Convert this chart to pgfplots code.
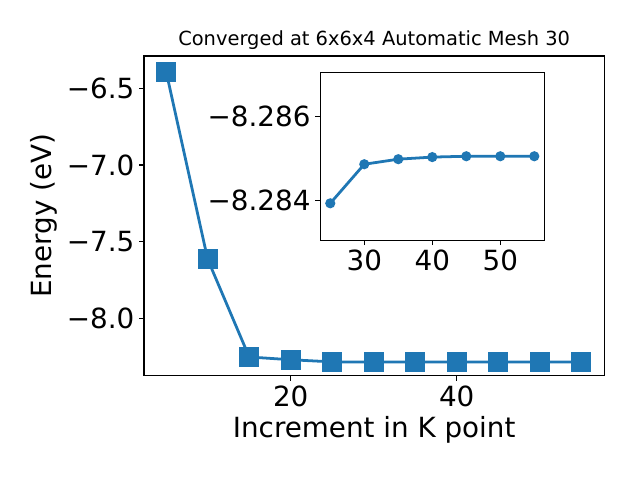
\documentclass[border=0pt]{standalone}
\usepackage{fontspec}
\setmainfont{DejaVu Sans}
\usepackage{pgfplots}
\pgfplotsset{compat=1.18}
\definecolor{mplblue}{HTML}{1F77B4}

\begin{document}
\begin{tikzpicture}
\useasboundingbox (0,0) rectangle (460.8pt,345.6pt);
% main axes
\begin{axis}[
    at={(103.7pt,75.1pt)}, anchor=south west,
    scale only axis, width=331.4pt, height=230.2pt,
    xmin=2.33, xmax=57.78, ymin=-8.374, ymax=-6.289,
    xtick={20,40}, ytick={-8.0,-7.5,-7.0,-6.5},
    yticklabels={−8.0,−7.5,−7.0,−6.5},
    xtick pos=left, ytick pos=left,
    tick align=outside, major tick length=3.5pt,
    every tick/.style={black, line width=0.8pt},
    axis line style={line width=0.8pt},
    tick label style={font=\fontsize{20}{24}\selectfont},
    /pgf/number format/assume math mode=true,
    xlabel={Increment in K point}, ylabel={Energy (eV)},
    label style={font=\fontsize{20}{24}\selectfont},
    title={Converged at 6x6x4 Automatic Mesh 30},
    title style={font=\fontsize{14}{16}\selectfont, yshift=-5pt},
]
\addplot[mplblue, line width=2pt, mark=square*, mark size=6.3pt,
    mark options={fill=mplblue, draw=mplblue}] coordinates {
    (5,-6.392) (10,-7.615) (15,-8.252) (20,-8.270) (25,-8.28394)
    (30,-8.28487) (35,-8.28499) (40,-8.28504) (45,-8.28506) (50,-8.28506) (55,-8.28506)
};
\end{axis}
% inset
\begin{axis}[
    at={(230.6pt,172.6pt)}, anchor=south west,
    scale only axis, width=161.3pt, height=120.7pt,
    xmin=23.53, xmax=56.47, ymin=-8.28705, ymax=-8.28306,
    y dir=reverse,
    xtick={30,40,50}, ytick={-8.286,-8.284},
    yticklabels={−8.286,−8.284},
    xtick pos=left, ytick pos=left,
    tick align=outside, major tick length=3.5pt,
    every tick/.style={black, line width=0.8pt},
    axis line style={line width=0.8pt},
    tick label style={font=\fontsize{20}{24}\selectfont},
    /pgf/number format/assume math mode=true,
    axis background/.style={fill=white},
]
\addplot[mplblue, line width=2pt, mark=*, mark size=2.6pt,
    mark options={fill=mplblue, draw=mplblue}] coordinates {
    (25,-8.28394) (30,-8.28487) (35,-8.28499) (40,-8.28504)
    (45,-8.28506) (50,-8.28506) (55,-8.28506)
};
\end{axis}
\end{tikzpicture}
\end{document}
